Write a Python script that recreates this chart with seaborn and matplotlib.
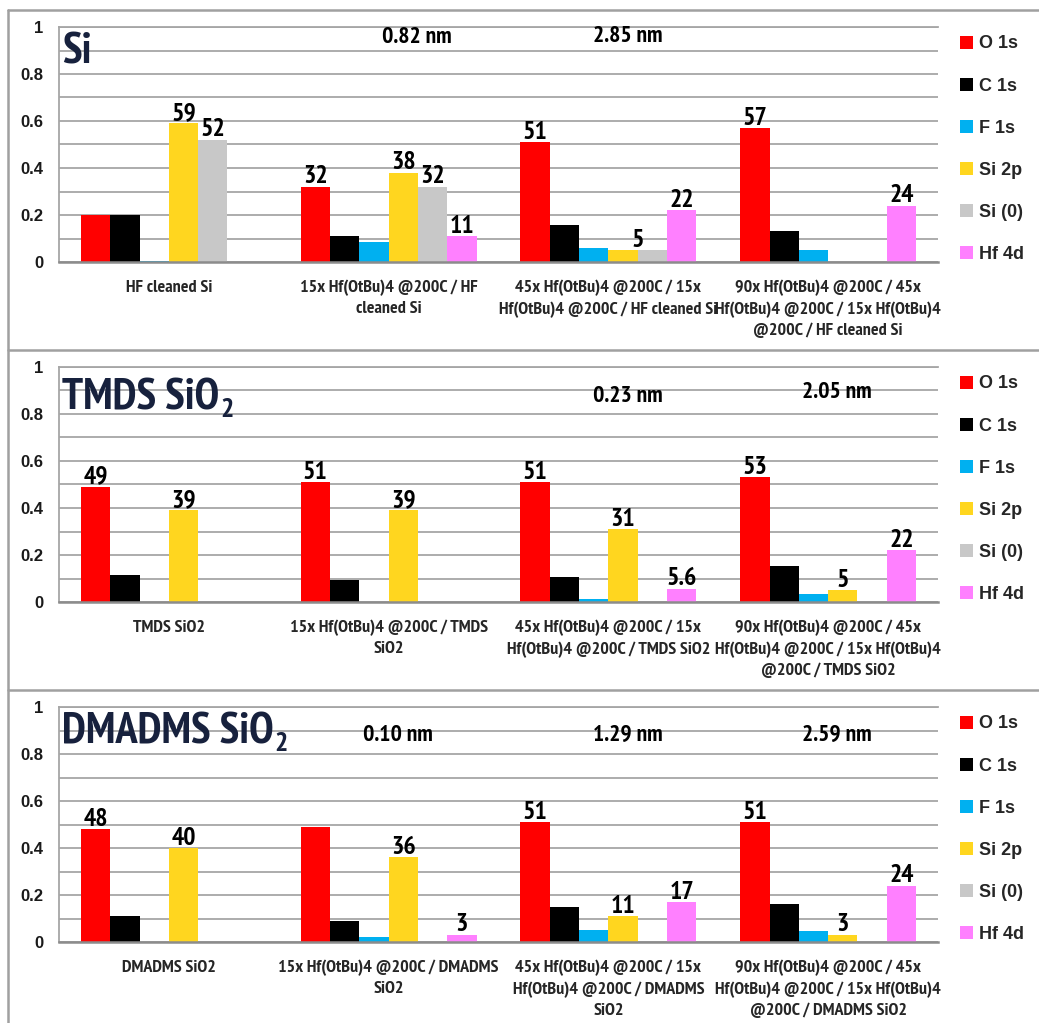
import matplotlib
matplotlib.use("Agg")
import matplotlib.pyplot as plt
import seaborn as sns
import pandas as pd
from matplotlib import font_manager as fm
from matplotlib.lines import Line2D
from matplotlib.ticker import MultipleLocator, FuncFormatter

# ---- data -------------------------------------------------------------
peaks = ["O 1s", "C 1s", "F 1s", "Si 2p", "Si (0)", "Hf 4d"]
peak_colors = ["#ff0000", "#000000", "#00b0f0", "#ffd61f", "#c8c8c8", "#ff80ff"]

# Si substrate
si_samples = [
    "HF cleaned Si",
    "15x Hf(OtBu)4 @200C / HF\ncleaned Si",
    "45x Hf(OtBu)4 @200C / 15x\nHf(OtBu)4 @200C / HF cleaned Si",
    "90x Hf(OtBu)4 @200C / 45x\nHf(OtBu)4 @200C / 15x Hf(OtBu)4\n@200C / HF cleaned Si",
]
si_o1s = [0.20, 0.32, 0.51, 0.57]
si_c1s = [0.20, 0.11, 0.157, 0.133]
si_f1s = [0.005, 0.084, 0.058, 0.051]
si_si2p = [0.59, 0.38, 0.05, 0.0]
si_si0 = [0.52, 0.32, 0.05, 0.0]
si_hf4d = [0.0, 0.11, 0.22, 0.24]
si_thickness = ["", "0.82 nm", "2.85 nm", ""]
si_labels = [(0, "Si 2p"), (0, "Si (0)"), (1, "O 1s"), (1, "Si 2p"), (1, "Si (0)"),
             (1, "Hf 4d"), (2, "O 1s"), (2, ("Si 2p", "Si (0)")), (2, "Hf 4d"),
             (3, "O 1s"), (3, "Hf 4d")]

# TMDS SiO2 substrate
tmds_samples = [
    "TMDS SiO2",
    "15x Hf(OtBu)4 @200C / TMDS\nSiO2",
    "45x Hf(OtBu)4 @200C / 15x\nHf(OtBu)4 @200C / TMDS SiO2",
    "90x Hf(OtBu)4 @200C / 45x\nHf(OtBu)4 @200C / 15x Hf(OtBu)4\n@200C / TMDS SiO2",
]
tmds_o1s = [0.49, 0.51, 0.51, 0.53]
tmds_c1s = [0.117, 0.095, 0.106, 0.152]
tmds_f1s = [0.0, 0.0, 0.014, 0.033]
tmds_si2p = [0.39, 0.39, 0.31, 0.05]
tmds_si0 = [0.0, 0.0, 0.0, 0.0]
tmds_hf4d = [0.0, 0.0, 0.056, 0.22]
tmds_thickness = ["", "", "0.23 nm", "2.05 nm"]
tmds_labels = [(0, "O 1s"), (0, "Si 2p"), (1, "O 1s"), (1, "Si 2p"), (2, "O 1s"),
               (2, "Si 2p"), (2, "Hf 4d"), (3, "O 1s"), (3, "Si 2p"), (3, "Hf 4d")]

# DMADMS SiO2 substrate
dmadms_samples = [
    "DMADMS SiO2",
    "15x Hf(OtBu)4 @200C / DMADMS\nSiO2",
    "45x Hf(OtBu)4 @200C / 15x\nHf(OtBu)4 @200C / DMADMS\nSiO2",
    "90x Hf(OtBu)4 @200C / 45x\nHf(OtBu)4 @200C / 15x Hf(OtBu)4\n@200C / DMADMS SiO2",
]
dmadms_o1s = [0.48, 0.489, 0.51, 0.51]
dmadms_c1s = [0.112, 0.089, 0.149, 0.163]
dmadms_f1s = [0.0, 0.021, 0.053, 0.045]
dmadms_si2p = [0.40, 0.36, 0.11, 0.03]
dmadms_si0 = [0.0, 0.0, 0.0, 0.0]
dmadms_hf4d = [0.0, 0.03, 0.17, 0.24]
dmadms_thickness = ["", "0.10 nm", "1.29 nm", "2.59 nm"]
dmadms_labels = [(0, "O 1s"), (0, "Si 2p"), (1, "Si 2p"), (1, "Hf 4d"), (2, "O 1s"),
                 (2, "Si 2p"), (2, "Hf 4d"), (3, "O 1s"), (3, "Si 2p"), (3, "Hf 4d")]

panels = [
    dict(title="Si", sub="", samples=si_samples,
         series=[si_o1s, si_c1s, si_f1s, si_si2p, si_si0, si_hf4d],
         thickness=si_thickness, labels=si_labels),
    dict(title="TMDS SiO", sub="2", samples=tmds_samples,
         series=[tmds_o1s, tmds_c1s, tmds_f1s, tmds_si2p, tmds_si0, tmds_hf4d],
         thickness=tmds_thickness, labels=tmds_labels),
    dict(title="DMADMS SiO", sub="2", samples=dmadms_samples,
         series=[dmadms_o1s, dmadms_c1s, dmadms_f1s, dmadms_si2p, dmadms_si0, dmadms_hf4d],
         thickness=dmadms_thickness, labels=dmadms_labels),
]

# ---- fonts ------------------------------------------------------------
sns.set_theme(style="white")
available = {f.name for f in fm.fontManager.ttflist}
narrow_name = next((n for n in ["Arial Narrow", "Liberation Sans Narrow", "PT Sans Narrow",
                                "Roboto Condensed", "Archivo Narrow"] if n in available), None)
if narrow_name:
    NARROW = [narrow_name, "Liberation Sans", "DejaVu Sans"]
    shrink = 1.0
else:
    NARROW = ["Liberation Sans", "DejaVu Sans"]
    shrink = 0.85
REG = ["Liberation Sans", "DejaVu Sans"]
plt.rcParams["font.family"] = NARROW

W, H = 1039, 1023
fig = plt.figure(figsize=(W / 100, H / 100), dpi=100)
fig.patch.set_facecolor("white")

GRID = "#a6a6a6"
TITLE_C = "#17213d"

# plot areas in pixels: (left, top, right, bottom)
areas = [(59, 27, 938, 262), (59, 367, 938, 602), (59, 707, 938, 942)]
title_y = [0.975, 0.95, 0.975]
thick_pos = [
    {1: (0.13, 0.955), 2: (0.09, 0.96)},
    {2: (0.09, 0.875), 3: (0.04, 0.89)},
    {1: (0.04, 0.88), 2: (0.09, 0.88), 3: (0.04, 0.88)},
]

for pi, p in enumerate(panels):
    l, t, r, b = areas[pi]
    ax = fig.add_axes([l / W, 1 - b / H, (r - l) / W, (b - t) / H])

    rows = []
    for si, s in enumerate(p["samples"]):
        for k, pk in enumerate(peaks):
            rows.append({"sample": s, "peak": pk, "frac": p["series"][k][si]})
    df = pd.DataFrame(rows)

    sns.barplot(data=df, x="sample", y="frac", hue="peak", order=p["samples"],
                hue_order=peaks, palette=peak_colors, saturation=1, width=0.8,
                linewidth=0, errorbar=None, ax=ax)

    ax.set_ylim(0, 1)
    ax.set_xlim(-0.5, 3.5)
    ax.set_xlabel("")
    ax.set_ylabel("")
    ax.yaxis.set_major_locator(MultipleLocator(0.2))
    ax.yaxis.set_minor_locator(MultipleLocator(0.1))
    ax.yaxis.set_major_formatter(FuncFormatter(lambda v, _: f"{v:g}"))
    ax.grid(True, axis="y", which="both", color=GRID, lw=1.3)
    ax.set_axisbelow(True)
    ax.spines["right"].set_visible(False)
    ax.spines["top"].set_color(GRID)
    ax.spines["top"].set_linewidth(1.3)
    ax.spines["left"].set_color(GRID)
    ax.spines["left"].set_linewidth(1.3)
    ax.spines["bottom"].set_color("#8c8c8c")
    ax.spines["bottom"].set_linewidth(1.8)
    ax.tick_params(axis="both", which="both", length=0)
    ax.tick_params(axis="y", pad=11)
    ax.tick_params(axis="x", pad=13)
    for lab in ax.get_yticklabels():
        lab.set_fontfamily(REG)
        lab.set_fontweight("bold")
        lab.set_fontsize(12)
        lab.set_color("#1a1a1a")
    for lab in ax.get_xticklabels():
        lab.set_fontfamily(NARROW)
        lab.set_fontweight("bold")
        lab.set_fontsize(13 * shrink)
        lab.set_color("#262626")
        lab.set_linespacing(1.42)

    # value labels on the bars, derived from bar heights
    for si, pk in p["labels"]:
        keys = pk if isinstance(pk, tuple) else (pk,)
        bars = [ax.containers[peaks.index(k)][si] for k in keys]
        x0 = min(bb.get_x() for bb in bars)
        x1 = max(bb.get_x() + bb.get_width() for bb in bars)
        h = bars[0].get_height()
        txt = f"{round(h * 100, 1):g}"
        ax.annotate(txt, xy=((x0 + x1) / 2, h), xytext=(0, 2.5),
                    textcoords="offset points", ha="center", va="baseline",
                    fontsize=18.5 * shrink, fontweight="bold", color="black")

    # film thickness annotations
    for ci, txt in enumerate(p["thickness"]):
        if txt:
            dx, yy = thick_pos[pi][ci]
            ax.text(ci + dx, yy, txt, ha="center", va="center",
                    fontsize=17 * shrink, fontweight="bold", color="black")

    # panel title with optional subscript
    tt = ax.text(0.003, title_y[pi], p["title"], transform=ax.transAxes,
                 ha="left", va="top", fontsize=32 * shrink, fontweight="bold",
                 color=TITLE_C)
    if p["sub"]:
        ax.annotate(p["sub"], xy=(1, 0), xycoords=tt, xytext=(1, 1),
                    textcoords="offset points", ha="left", va="baseline",
                    fontsize=20 * shrink, fontweight="bold", color=TITLE_C)

    handles, labels = ax.get_legend_handles_labels()
    ax.legend(handles, labels, loc="center left", bbox_to_anchor=(1.025, 0.48),
              frameon=False, handlelength=0.7, handleheight=0.75,
              handletextpad=0.35, labelspacing=1.39, borderpad=0,
              borderaxespad=0, prop={"family": REG, "weight": "bold", "size": 13})

# panel frames
FRAME = "#a0a0a0"
def hline(y, x0=8, x1=W):
    fig.add_artist(Line2D([x0 / W, x1 / W], [1 - y / H, 1 - y / H],
                          transform=fig.transFigure, color=FRAME, lw=1.8))

hline(10)
hline(350)
hline(690)
fig.add_artist(Line2D([8 / W, 8 / W], [1 - 10 / H, 0], transform=fig.transFigure,
                      color=FRAME, lw=1.8))

fig.savefig("out.png", dpi=100)
